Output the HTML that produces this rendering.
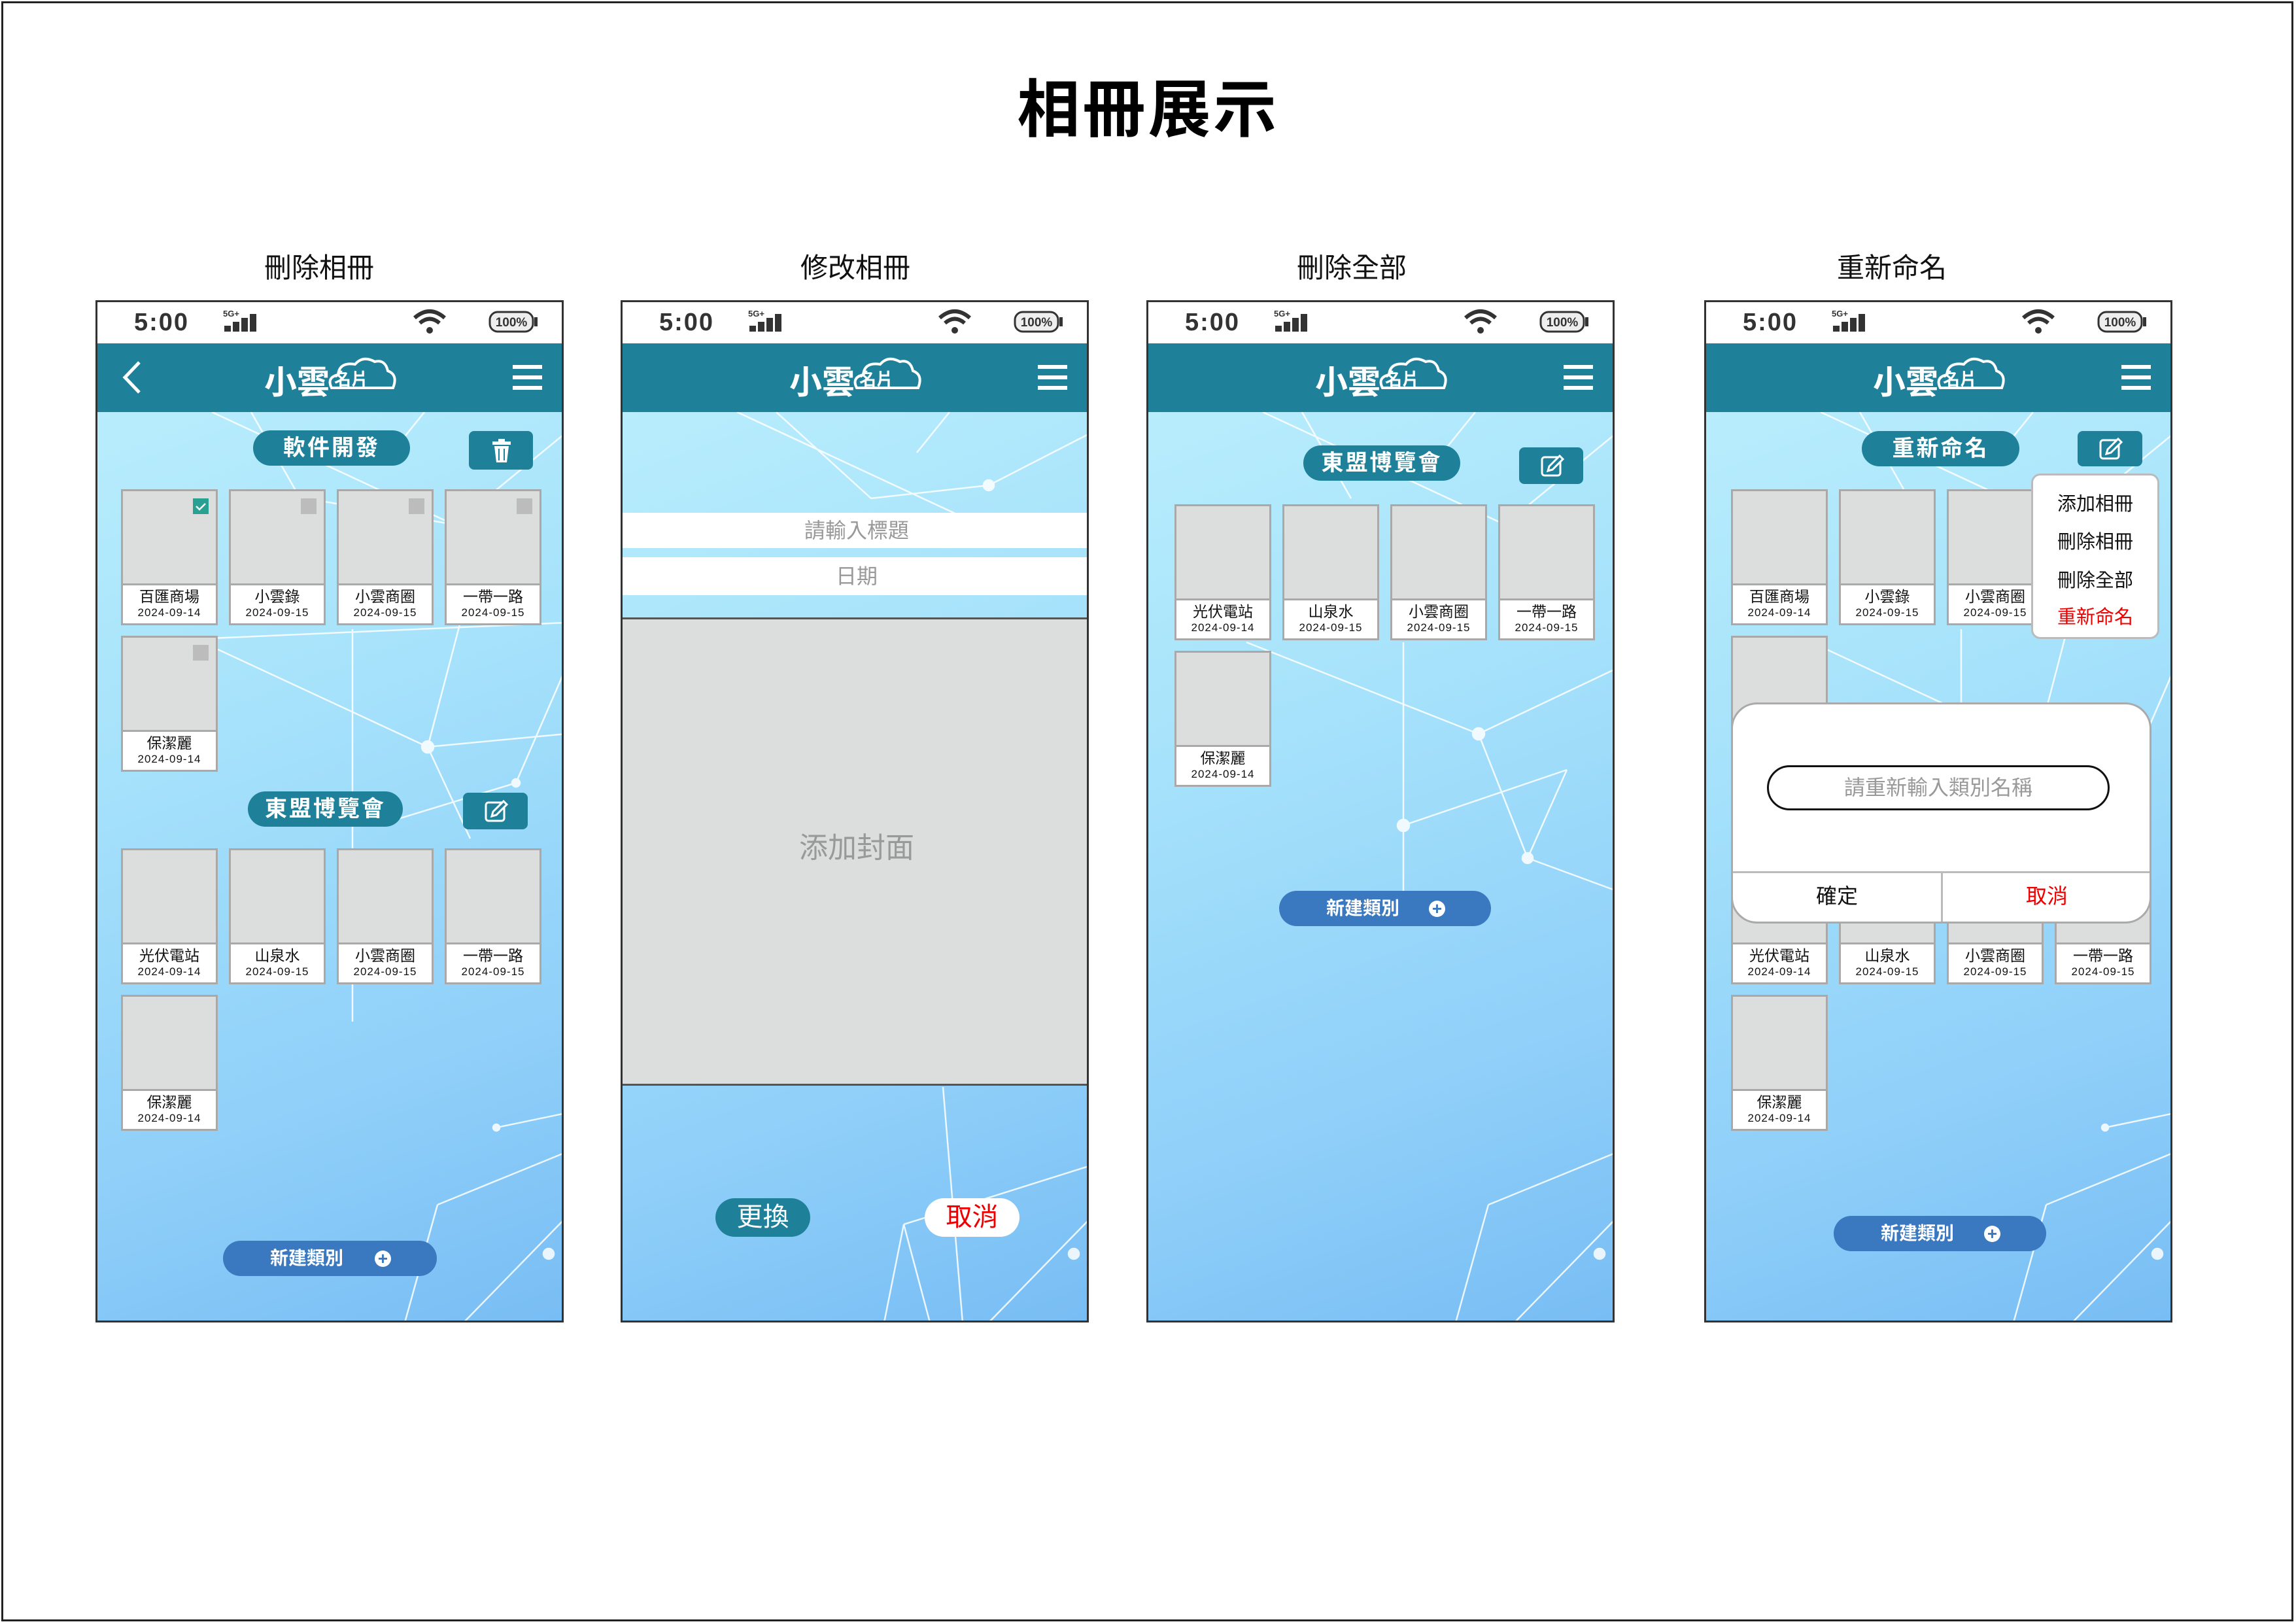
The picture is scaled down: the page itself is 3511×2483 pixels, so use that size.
<!DOCTYPE html>
<html><head><meta charset="utf-8"><style>
*{margin:0;padding:0;box-sizing:border-box}
body{width:3511px;height:2483px;background:#fff;position:relative;overflow:hidden;font-family:"Liberation Sans","Noto Sans CJK TC",sans-serif}
.frame{position:absolute;left:2px;top:2px;width:3505px;height:2477px;border:3px solid #222}
.title{position:absolute;left:0;width:3511px;top:90px;text-align:center;font-size:96px;font-weight:bold;color:#000;letter-spacing:4px}
.sub{position:absolute;top:376px;font-size:42px;color:#111;width:400px;text-align:center}
.ph{position:absolute;top:459px;width:716px;height:1563px;border:3px solid #333;overflow:hidden;background:linear-gradient(160deg,#bdf0fc 0%,#a6e2fb 40%,#8fcff9 75%,#78bdf4 100%)}
.ph svg.net{position:absolute;left:0;top:0}
.sb{position:absolute;left:0;top:0;width:100%;height:63px;background:#fff}
.sb .t{position:absolute;left:56px;top:10px;font-size:38px;font-weight:bold;color:#333;letter-spacing:2px}
.hd{position:absolute;left:0;top:63px;width:100%;height:105px;background:#1f8199}
.logo{position:absolute;left:255px;top:20px;color:#fff;font-weight:bold;font-size:50px}
.ham{position:absolute;left:635px;top:33px;width:45px}
.ham i{display:block;height:6px;background:#fff;margin-bottom:10px}
.pill{position:absolute;height:54px;border-radius:28px;background:#1f8199;color:#fff;font-weight:bold;font-size:34px;text-align:center;line-height:54px;letter-spacing:3px}
.btn{position:absolute;border-radius:8px;background:#1f8199}
.c{position:absolute;width:148px;height:208px;border:3px solid #a9a9a9;background:#fff}
.im{height:144px;background:#dcdddd;border-bottom:3px solid #a9a9a9;position:relative}
.ck{position:absolute;right:11px;top:11px;width:24px;height:24px;background:#bcbcbc}
.lb{text-align:center;color:#111;line-height:1}
.lb b{display:block;font-weight:normal;font-size:23px;margin-top:6px}
.lb i{display:block;font-style:normal;font-size:17px;margin-top:4px;letter-spacing:1px}
.nb{position:absolute;height:54px;border-radius:28px;background:#3a78bf;color:#fff;font-size:28px;font-weight:bold;line-height:54px}
.nb span{position:absolute;left:72px}
.nb u{position:absolute;right:70px;top:15px;width:25px;height:25px;border-radius:50%;background:#fff;color:#3a78bf;text-decoration:none;font-size:26px;line-height:24px;text-align:center}
</style></head><body>
<div class="frame"></div>
<div class="title">相冊展示</div>
<div class="sub" style="left:288px">刪除相冊</div>
<div class="sub" style="left:1108px">修改相冊</div>
<div class="sub" style="left:1867px">刪除全部</div>
<div class="sub" style="left:2693px">重新命名</div>

<!-- PHONE 1 -->
<div class="ph" style="left:146px">
<svg class="net" width="716" height="1563"><g stroke="#fff" stroke-width="2.5" opacity=".85" fill="#fff">
<line x1="175" y1="168" x2="545" y2="340"/><line x1="235" y1="168" x2="310" y2="300"/><line x1="320" y1="300" x2="545" y2="340"/><line x1="450" y1="230" x2="500" y2="168"/><line x1="545" y1="340" x2="716" y2="200"/>
<line x1="150" y1="515" x2="505" y2="680"/><line x1="150" y1="515" x2="716" y2="490"/><line x1="390" y1="500" x2="390" y2="1100"/><line x1="505" y1="680" x2="560" y2="470"/><line x1="505" y1="680" x2="716" y2="660"/><line x1="505" y1="680" x2="570" y2="820"/><line x1="640" y1="735" x2="716" y2="560"/><line x1="640" y1="735" x2="460" y2="790"/>
<line x1="560" y1="1560" x2="716" y2="1400"/><line x1="470" y1="1560" x2="520" y2="1380"/><line x1="520" y1="1380" x2="716" y2="1300"/><line x1="610" y1="1262" x2="716" y2="1240"/>
<circle cx="505" cy="680" r="9"/><circle cx="640" cy="735" r="6"/><circle cx="690" cy="1455" r="8"/><circle cx="610" cy="1262" r="5"/></g></svg>
<div class="sb"><div class="t">5:00</div><svg style="position:absolute;left:192px;top:8px" width="60" height="42"><text x="0" y="14" font-size="13" fill="#333" font-weight="bold" font-family="Liberation Sans">5G+</text><rect x="2" y="28" width="10" height="9" fill="#333"/><rect x="15" y="22" width="10" height="15" fill="#333"/><rect x="28" y="16" width="10" height="21" fill="#333"/><rect x="41" y="10" width="10" height="27" fill="#333"/></svg>
<svg style="position:absolute;left:482px;top:10px" width="52" height="42"><path d="M3 14 Q26 -6 49 14" stroke="#333" stroke-width="6" fill="none"/><path d="M11 22 Q26 9 41 22" stroke="#333" stroke-width="6" fill="none"/><circle cx="26" cy="33" r="5" fill="#333"/></svg>
<svg style="position:absolute;left:598px;top:12px" width="80" height="38"><rect x="2" y="3" width="66" height="30" rx="12" fill="#eee" stroke="#333" stroke-width="3"/><rect x="70" y="11" width="5" height="14" fill="#333"/><text x="35" y="25" font-size="19" text-anchor="middle" font-weight="bold" fill="#333" font-family="Liberation Sans">100%</text></svg></div>
<div class="hd"><svg style="position:absolute;left:34px;top:25px" width="40" height="55"><path d="M30 4 L8 27 L30 50" stroke="#fff" stroke-width="5" fill="none"/></svg>
<div class="logo">小雲<svg style="position:absolute;left:95px;top:-2px" width="110" height="60"><path d="M8 50 Q0 34 18 30 Q20 10 44 14 Q56 0 74 10 Q90 6 94 24 Q110 30 102 50 Z" stroke="#fff" stroke-width="4" fill="none"/><text x="12" y="46" font-size="26" fill="#fff" font-family="Noto Sans CJK TC">名片</text></svg></div>
<div class="ham"><i></i><i></i><i></i></div></div>
<div class="pill" style="left:238px;top:196px;width:240px">軟件開發</div>
<div class="btn" style="left:568px;top:197px;width:98px;height:59px"><svg width="98" height="59"><rect x="36" y="16" width="28" height="5" fill="#fff"/><rect x="45" y="12" width="10" height="5" fill="#fff"/><path d="M39 23 H61 L58 48 H42 Z" fill="#fff"/><line x1="46" y1="27" x2="46" y2="45" stroke="#1f8199" stroke-width="2"/><line x1="54" y1="27" x2="54" y2="45" stroke="#1f8199" stroke-width="2"/></svg></div>
<div class="c" style="left:36px;top:286px"><div class="im"><div class="ck" style="background:#28a092"><svg width="24" height="24"><path d="M5 12 L10 17 L19 8" stroke="#fff" stroke-width="2.5" fill="none"/></svg></div></div><div class="lb"><b>百匯商場</b><i>2024-09-14</i></div></div>
<div class="c" style="left:201px;top:286px"><div class="im"><div class="ck"></div></div><div class="lb"><b>小雲錄</b><i>2024-09-15</i></div></div>
<div class="c" style="left:366px;top:286px"><div class="im"><div class="ck"></div></div><div class="lb"><b>小雲商圈</b><i>2024-09-15</i></div></div>
<div class="c" style="left:531px;top:286px"><div class="im"><div class="ck"></div></div><div class="lb"><b>一帶一路</b><i>2024-09-15</i></div></div>
<div class="c" style="left:36px;top:510px"><div class="im"><div class="ck"></div></div><div class="lb"><b>保潔麗</b><i>2024-09-14</i></div></div>
<div class="pill" style="left:230px;top:748px;width:237px">東盟博覽會</div>
<div class="btn" style="left:559px;top:750px;width:99px;height:56px"><svg width="99" height="56"><rect x="35" y="15" width="28" height="28" rx="4" stroke="#fff" stroke-width="3" fill="none"/><path d="M44 36 L46 29 L62 13 L67 18 L51 34 Z" stroke="#fff" stroke-width="3" fill="#1f8199"/></svg></div>
<div class="c" style="left:36px;top:835px"><div class="im"></div><div class="lb"><b>光伏電站</b><i>2024-09-14</i></div></div>
<div class="c" style="left:201px;top:835px"><div class="im"></div><div class="lb"><b>山泉水</b><i>2024-09-15</i></div></div>
<div class="c" style="left:366px;top:835px"><div class="im"></div><div class="lb"><b>小雲商圈</b><i>2024-09-15</i></div></div>
<div class="c" style="left:531px;top:835px"><div class="im"></div><div class="lb"><b>一帶一路</b><i>2024-09-15</i></div></div>
<div class="c" style="left:36px;top:1059px"><div class="im"></div><div class="lb"><b>保潔麗</b><i>2024-09-14</i></div></div>
<div class="nb" style="left:192px;top:1435px;width:327px"><span>新建類別</span><u>+</u></div>
</div>

<!-- PHONE 2 -->
<div class="ph" style="left:949px">
<svg class="net" width="716" height="1563"><g stroke="#fff" stroke-width="2.5" opacity=".85" fill="#fff">
<line x1="175" y1="168" x2="545" y2="340"/><line x1="235" y1="168" x2="380" y2="300"/><line x1="380" y1="300" x2="560" y2="280"/><line x1="560" y1="280" x2="716" y2="200"/><line x1="450" y1="230" x2="500" y2="168"/>
<line x1="560" y1="1560" x2="716" y2="1400"/><line x1="400" y1="1560" x2="430" y2="1410"/><line x1="430" y1="1410" x2="716" y2="1320"/><line x1="470" y1="1560" x2="430" y2="1410"/><line x1="490" y1="1200" x2="520" y2="1560"/>
<circle cx="560" cy="280" r="8"/><circle cx="690" cy="1455" r="8"/></g></svg>
<div class="sb"><div class="t">5:00</div><svg style="position:absolute;left:192px;top:8px" width="60" height="42"><text x="0" y="14" font-size="13" fill="#333" font-weight="bold" font-family="Liberation Sans">5G+</text><rect x="2" y="28" width="10" height="9" fill="#333"/><rect x="15" y="22" width="10" height="15" fill="#333"/><rect x="28" y="16" width="10" height="21" fill="#333"/><rect x="41" y="10" width="10" height="27" fill="#333"/></svg>
<svg style="position:absolute;left:482px;top:10px" width="52" height="42"><path d="M3 14 Q26 -6 49 14" stroke="#333" stroke-width="6" fill="none"/><path d="M11 22 Q26 9 41 22" stroke="#333" stroke-width="6" fill="none"/><circle cx="26" cy="33" r="5" fill="#333"/></svg>
<svg style="position:absolute;left:598px;top:12px" width="80" height="38"><rect x="2" y="3" width="66" height="30" rx="12" fill="#eee" stroke="#333" stroke-width="3"/><rect x="70" y="11" width="5" height="14" fill="#333"/><text x="35" y="25" font-size="19" text-anchor="middle" font-weight="bold" fill="#333" font-family="Liberation Sans">100%</text></svg></div>
<div class="hd">
<div class="logo">小雲<svg style="position:absolute;left:95px;top:-2px" width="110" height="60"><path d="M8 50 Q0 34 18 30 Q20 10 44 14 Q56 0 74 10 Q90 6 94 24 Q110 30 102 50 Z" stroke="#fff" stroke-width="4" fill="none"/><text x="12" y="46" font-size="26" fill="#fff" font-family="Noto Sans CJK TC">名片</text></svg></div>
<div class="ham"><i></i><i></i><i></i></div></div>
<div style="position:absolute;left:0;top:322px;width:716px;height:54px;background:#fff;color:#999;font-size:32px;text-align:center;line-height:54px">請輸入標題</div>
<div style="position:absolute;left:0;top:390px;width:716px;height:58px;background:#fff;color:#999;font-size:32px;text-align:center;line-height:58px">日期</div>
<div style="position:absolute;left:0;top:482px;width:716px;height:716px;background:#dcdddd;border-top:3px solid #555;border-bottom:3px solid #555;color:#999;font-size:44px;text-align:center;line-height:700px">添加封面</div>
<div style="position:absolute;left:142px;top:1370px;width:145px;height:59px;border-radius:30px;background:#1f8199;color:#fff;font-size:40px;text-align:center;line-height:59px">更換</div>
<div style="position:absolute;left:462px;top:1370px;width:145px;height:59px;border-radius:30px;background:#fff;color:#e00;font-size:40px;text-align:center;line-height:59px">取消</div>
</div>

<!-- PHONE 3 -->
<div class="ph" style="left:1753px">
<svg class="net" width="716" height="1563"><g stroke="#fff" stroke-width="2.5" opacity=".85" fill="#fff">
<line x1="175" y1="168" x2="545" y2="340"/><line x1="235" y1="168" x2="310" y2="300"/><line x1="450" y1="230" x2="500" y2="168"/><line x1="545" y1="340" x2="716" y2="200"/>
<line x1="150" y1="520" x2="505" y2="660"/><line x1="505" y1="660" x2="716" y2="560"/><line x1="390" y1="520" x2="390" y2="900"/><line x1="505" y1="660" x2="580" y2="850"/><line x1="580" y1="850" x2="716" y2="900"/><line x1="640" y1="715" x2="390" y2="800"/><line x1="640" y1="715" x2="580" y2="850"/>
<line x1="560" y1="1560" x2="716" y2="1400"/><line x1="470" y1="1560" x2="520" y2="1380"/><line x1="520" y1="1380" x2="716" y2="1300"/>
<circle cx="505" cy="660" r="9"/><circle cx="580" cy="850" r="8"/><circle cx="390" cy="800" r="9"/><circle cx="690" cy="1455" r="8"/></g></svg>
<div class="sb"><div class="t">5:00</div><svg style="position:absolute;left:192px;top:8px" width="60" height="42"><text x="0" y="14" font-size="13" fill="#333" font-weight="bold" font-family="Liberation Sans">5G+</text><rect x="2" y="28" width="10" height="9" fill="#333"/><rect x="15" y="22" width="10" height="15" fill="#333"/><rect x="28" y="16" width="10" height="21" fill="#333"/><rect x="41" y="10" width="10" height="27" fill="#333"/></svg>
<svg style="position:absolute;left:482px;top:10px" width="52" height="42"><path d="M3 14 Q26 -6 49 14" stroke="#333" stroke-width="6" fill="none"/><path d="M11 22 Q26 9 41 22" stroke="#333" stroke-width="6" fill="none"/><circle cx="26" cy="33" r="5" fill="#333"/></svg>
<svg style="position:absolute;left:598px;top:12px" width="80" height="38"><rect x="2" y="3" width="66" height="30" rx="12" fill="#eee" stroke="#333" stroke-width="3"/><rect x="70" y="11" width="5" height="14" fill="#333"/><text x="35" y="25" font-size="19" text-anchor="middle" font-weight="bold" fill="#333" font-family="Liberation Sans">100%</text></svg></div>
<div class="hd">
<div class="logo">小雲<svg style="position:absolute;left:95px;top:-2px" width="110" height="60"><path d="M8 50 Q0 34 18 30 Q20 10 44 14 Q56 0 74 10 Q90 6 94 24 Q110 30 102 50 Z" stroke="#fff" stroke-width="4" fill="none"/><text x="12" y="46" font-size="26" fill="#fff" font-family="Noto Sans CJK TC">名片</text></svg></div>
<div class="ham"><i></i><i></i><i></i></div></div>
<div class="pill" style="left:237px;top:219px;width:240px">東盟博覽會</div>
<div class="btn" style="left:567px;top:222px;width:98px;height:56px"><svg width="99" height="56"><rect x="35" y="15" width="28" height="28" rx="4" stroke="#fff" stroke-width="3" fill="none"/><path d="M44 36 L46 29 L62 13 L67 18 L51 34 Z" stroke="#fff" stroke-width="3" fill="#1f8199"/></svg></div>
<div class="c" style="left:40px;top:309px"><div class="im"></div><div class="lb"><b>光伏電站</b><i>2024-09-14</i></div></div>
<div class="c" style="left:205px;top:309px"><div class="im"></div><div class="lb"><b>山泉水</b><i>2024-09-15</i></div></div>
<div class="c" style="left:370px;top:309px"><div class="im"></div><div class="lb"><b>小雲商圈</b><i>2024-09-15</i></div></div>
<div class="c" style="left:535px;top:309px"><div class="im"></div><div class="lb"><b>一帶一路</b><i>2024-09-15</i></div></div>
<div class="c" style="left:40px;top:533px"><div class="im"></div><div class="lb"><b>保潔麗</b><i>2024-09-14</i></div></div>
<div class="nb" style="left:200px;top:900px;width:324px"><span>新建類別</span><u>+</u></div>
</div>

<!-- PHONE 4 -->
<div class="ph" style="left:2606px">
<svg class="net" width="716" height="1563"><g stroke="#fff" stroke-width="2.5" opacity=".85" fill="#fff">
<line x1="175" y1="168" x2="545" y2="340"/><line x1="235" y1="168" x2="310" y2="300"/><line x1="450" y1="230" x2="500" y2="168"/><line x1="545" y1="340" x2="716" y2="200"/>
<line x1="150" y1="515" x2="505" y2="680"/><line x1="390" y1="500" x2="390" y2="620"/><line x1="505" y1="680" x2="560" y2="470"/><line x1="640" y1="735" x2="716" y2="560"/>
<line x1="560" y1="1560" x2="716" y2="1400"/><line x1="470" y1="1560" x2="520" y2="1380"/><line x1="520" y1="1380" x2="716" y2="1300"/><line x1="610" y1="1262" x2="716" y2="1240"/>
<circle cx="690" cy="1455" r="8"/><circle cx="610" cy="1262" r="5"/></g></svg>
<div class="sb"><div class="t">5:00</div><svg style="position:absolute;left:192px;top:8px" width="60" height="42"><text x="0" y="14" font-size="13" fill="#333" font-weight="bold" font-family="Liberation Sans">5G+</text><rect x="2" y="28" width="10" height="9" fill="#333"/><rect x="15" y="22" width="10" height="15" fill="#333"/><rect x="28" y="16" width="10" height="21" fill="#333"/><rect x="41" y="10" width="10" height="27" fill="#333"/></svg>
<svg style="position:absolute;left:482px;top:10px" width="52" height="42"><path d="M3 14 Q26 -6 49 14" stroke="#333" stroke-width="6" fill="none"/><path d="M11 22 Q26 9 41 22" stroke="#333" stroke-width="6" fill="none"/><circle cx="26" cy="33" r="5" fill="#333"/></svg>
<svg style="position:absolute;left:598px;top:12px" width="80" height="38"><rect x="2" y="3" width="66" height="30" rx="12" fill="#eee" stroke="#333" stroke-width="3"/><rect x="70" y="11" width="5" height="14" fill="#333"/><text x="35" y="25" font-size="19" text-anchor="middle" font-weight="bold" fill="#333" font-family="Liberation Sans">100%</text></svg></div>
<div class="hd">
<div class="logo">小雲<svg style="position:absolute;left:95px;top:-2px" width="110" height="60"><path d="M8 50 Q0 34 18 30 Q20 10 44 14 Q56 0 74 10 Q90 6 94 24 Q110 30 102 50 Z" stroke="#fff" stroke-width="4" fill="none"/><text x="12" y="46" font-size="26" fill="#fff" font-family="Noto Sans CJK TC">名片</text></svg></div>
<div class="ham"><i></i><i></i><i></i></div></div>
<div class="pill" style="left:238px;top:197px;width:241px">重新命名</div>
<div class="btn" style="left:568px;top:197px;width:99px;height:54px"><svg width="99" height="54"><rect x="35" y="14" width="28" height="28" rx="4" stroke="#fff" stroke-width="3" fill="none"/><path d="M44 35 L46 28 L62 12 L67 17 L51 33 Z" stroke="#fff" stroke-width="3" fill="#1f8199"/></svg></div>
<div class="c" style="left:38px;top:286px"><div class="im"></div><div class="lb"><b>百匯商場</b><i>2024-09-14</i></div></div>
<div class="c" style="left:203px;top:286px"><div class="im"></div><div class="lb"><b>小雲錄</b><i>2024-09-15</i></div></div>
<div class="c" style="left:368px;top:286px"><div class="im"></div><div class="lb"><b>小雲商圈</b><i>2024-09-15</i></div></div>
<div class="c" style="left:533px;top:286px"><div class="im"></div><div class="lb"><b>一帶一路</b><i>2024-09-15</i></div></div>
<div class="c" style="left:38px;top:510px"><div class="im"></div><div class="lb"><b>保潔麗</b><i>2024-09-14</i></div></div>
<div class="c" style="left:38px;top:835px"><div class="im"></div><div class="lb"><b>光伏電站</b><i>2024-09-14</i></div></div>
<div class="c" style="left:203px;top:835px"><div class="im"></div><div class="lb"><b>山泉水</b><i>2024-09-15</i></div></div>
<div class="c" style="left:368px;top:835px"><div class="im"></div><div class="lb"><b>小雲商圈</b><i>2024-09-15</i></div></div>
<div class="c" style="left:533px;top:835px"><div class="im"></div><div class="lb"><b>一帶一路</b><i>2024-09-15</i></div></div>
<div class="c" style="left:38px;top:1059px"><div class="im"></div><div class="lb"><b>保潔麗</b><i>2024-09-14</i></div></div>
<div class="nb" style="left:195px;top:1397px;width:325px"><span>新建類別</span><u>+</u></div>
<div style="position:absolute;left:497px;top:262px;width:196px;height:253px;background:#fff;border:3px solid #bbb;border-radius:14px;font-size:29px;color:#111;text-align:center">
<div style="position:absolute;left:0;width:190px;top:20px">添加相冊</div>
<div style="position:absolute;left:0;width:190px;top:78px">刪除相冊</div>
<div style="position:absolute;left:0;width:190px;top:137px">刪除全部</div>
<div style="position:absolute;left:0;width:190px;top:193px;color:#e00">重新命名</div></div>
<div style="position:absolute;left:38px;top:612px;width:643px;height:338px;background:#fff;border:3px solid #aaa;border-radius:40px;overflow:hidden">
<div style="position:absolute;left:52px;top:93px;width:524px;height:69px;border:3px solid #111;border-radius:35px;color:#999;font-size:32px;text-align:center;line-height:63px">請重新輸入類別名稱</div>
<div style="position:absolute;left:0;top:255px;width:100%;height:3px;background:#bbb"></div>
<div style="position:absolute;left:318px;top:255px;width:3px;height:90px;background:#bbb"></div>
<div style="position:absolute;left:0;top:268px;width:318px;text-align:center;font-size:32px;color:#111">確定</div>
<div style="position:absolute;left:321px;top:268px;width:318px;text-align:center;font-size:32px;color:#e00">取消</div>
</div>
</div>
</body></html>
